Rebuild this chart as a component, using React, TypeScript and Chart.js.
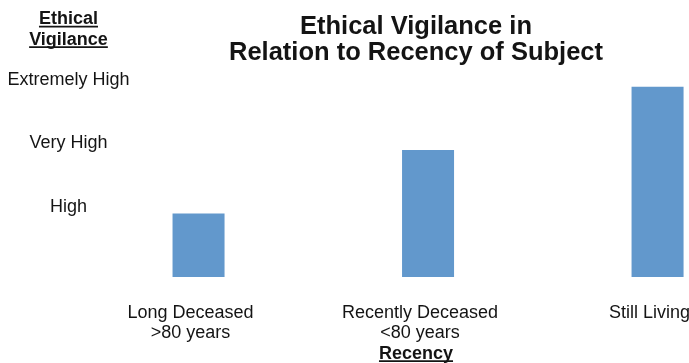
import React, { useEffect, useRef } from "react";
import { Chart, registerables } from "chart.js";

Chart.register(...registerables);

// Subject recency groups (multi-line axis labels)
const categories: string[][] = [
  ["Long Deceased", ">80 years"],
  ["Recently Deceased", "<80 years"],
  ["Still Living"],
];
// Vigilance level reached by each group (index into levelLabels)
const vigilance: number[] = [1, 2, 3];
const levelLabels: string[] = ["", "High", "Very High", "Extremely High"];

const chartTitle: string[] = ["Ethical Vigilance in", "Relation to Recency of Subject"];
const yTitle: string[] = ["Ethical", "Vigilance"];
const xTitle = "Recency";

const FONT = '"Liberation Sans", Arial, Helvetica, sans-serif';
const INK = "#141414";
const BAR = "#6298cc";

function drawUnderline(ctx: CanvasRenderingContext2D, cx: number, y: number, w: number) {
  ctx.beginPath();
  ctx.lineWidth = 1.6;
  ctx.moveTo(cx - w / 2, y);
  ctx.lineTo(cx + w / 2, y);
  ctx.stroke();
}

// Draws the stacked, underlined y heading and underlines the x-axis title.
const headingPlugin = {
  id: "underlinedHeadings",
  afterDraw(chart: any) {
    const ctx: CanvasRenderingContext2D = chart.ctx;
    const yScale = chart.scales.y;
    const xScale = chart.scales.x;
    const items = yScale.getLabelItems();
    const cx = items.length ? items[0].options.translation[0] : yScale.left + yScale.width / 2;

    ctx.save();
    ctx.fillStyle = INK;
    ctx.strokeStyle = INK;
    ctx.font = `bold 18px ${FONT}`;
    ctx.textAlign = "center";
    ctx.textBaseline = "alphabetic";
    yTitle.forEach((line, i) => {
      const base = 24 + i * 20.5;
      ctx.fillText(line, cx, base);
      drawUnderline(ctx, cx, base + 2.6, ctx.measureText(line).width);
    });

    // underline beneath the x-axis title rendered by the scale
    const tOpts = xScale.options.title;
    const size = tOpts.font.size;
    const lineH = size * tOpts.font.lineHeight;
    const middle = xScale.bottom - lineH / 2;
    ctx.textBaseline = "middle";
    const toBase = ctx.measureText("H").actualBoundingBoxDescent;
    const w = ctx.measureText(xTitle).width;
    drawUnderline(ctx, (xScale.left + xScale.right) / 2, middle + toBase + 2.2, w);
    ctx.restore();
  },
};

export default function App() {
  const canvasRef = useRef<HTMLCanvasElement | null>(null);

  useEffect(() => {
    const canvas = canvasRef.current;
    if (!canvas) return;
    const chart = new Chart(canvas, {
      type: "bar",
      data: {
        datasets: [
          {
            data: vigilance.map((v, i) => ({ x: i, y: v })),
            backgroundColor: BAR,
            borderWidth: 0,
            barPercentage: 0.2266,
            categoryPercentage: 1,
          },
        ],
      },
      options: {
        animation: false,
        responsive: true,
        maintainAspectRatio: false,
        layout: { padding: 0 },
        plugins: {
          legend: { display: false },
          tooltip: { enabled: false },
          title: {
            display: true,
            text: chartTitle,
            fullSize: false,
            color: INK,
            font: { family: FONT, size: 25.5, weight: "bold", lineHeight: 1.02 },
            padding: { top: 14, bottom: 20.5 },
          },
        },
        scales: {
          x: {
            type: "linear",
            min: -0.242,
            max: 2.137,
            offset: false,
            grid: { display: false, drawTicks: false },
            border: { display: false },
            afterBuildTicks: (s: any) => {
              s.ticks = categories.map((_, i) => ({ value: i }));
            },
            afterFit: (s: any) => {
              s.height = 86;
              s.paddingLeft = 0;
              s.paddingRight = 0;
            },
            ticks: {
              callback: (v: any) => categories[v as number] ?? "",
              color: INK,
              font: { family: FONT, size: 18, lineHeight: 1.1 },
              padding: 26,
              labelOffset: -8,
              maxRotation: 0,
              minRotation: 0,
              autoSkip: false,
            },
            title: {
              display: true,
              text: xTitle,
              color: INK,
              font: { family: FONT, size: 18, weight: "bold", lineHeight: 1.0 },
              padding: { top: 0, bottom: 0 },
            },
          },
          y: {
            type: "linear",
            min: 0,
            max: 3,
            grid: { display: false, drawTicks: false },
            border: { display: false },
            afterBuildTicks: (s: any) => {
              s.ticks = levelLabels.map((_, i) => ({ value: i })).filter((t) => t.value > 0);
            },
            afterFit: (s: any) => {
              s.width = 143;
            },
            ticks: {
              callback: (v: any) => levelLabels[v as number] ?? "",
              crossAlign: "center",
              padding: 13.5,
              labelOffset: -6.5,
              color: INK,
              font: { family: FONT, size: 18 },
            },
          },
        },
      } as any,
      plugins: [headingPlugin],
    });
    return () => chart.destroy();
  }, []);

  return (
    <div
      style={{
        position: "absolute",
        left: 0,
        top: 0,
        width: 689,
        height: 363,
        background: "#ffffff",
      }}
    >
      <canvas ref={canvasRef} />
    </div>
  );
}
